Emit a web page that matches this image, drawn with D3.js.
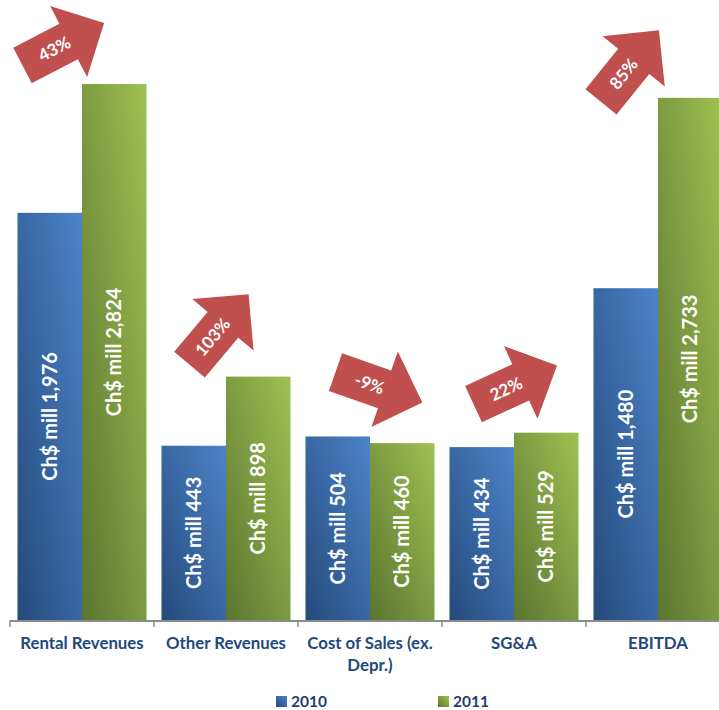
<!DOCTYPE html>
<html><head><meta charset="utf-8">
<script src="https://cdn.jsdelivr.net/npm/d3@7"></script>
<style>body{margin:0;background:#fff;overflow:hidden}</style>
</head><body>
<svg id="c" width="719" height="710"></svg>
<script>
const categories = ["Rental Revenues","Other Revenues","Cost of Sales (ex. Depr.)","SG&A","EBITDA"];
const categoryLines = [["Rental Revenues"],["Other Revenues"],["Cost of Sales (ex.","Depr.)"],["SG&A"],["EBITDA"]];
const series = ["2010","2011"];
const values2010 = [1976,443,504,434,1480];
const values2011 = [2824,898,460,529,2733];
const changeLabels = ["43%","103%","-9%","22%","85%"];
// arrow annotation layout: tail offset from the 2011 bar's top-left corner, and rotation (deg)
const arrowDX = [-59.5,-36.5,-34.5,-40.5,-57];
const arrowDY = [-18.5,-12,-71,-28.5,4];
const arrowAngle = [-27.5,-50,19.3,-24.8,-51];

const svg = d3.select("#c");
const font = "Lato, 'Open Sans', sans-serif";
const defs = svg.append("defs");
function grad(id, dark, light){
  const g = defs.append("linearGradient").attr("id", id)
    .attr("x1",0).attr("y1",1).attr("x2",1).attr("y2",0);
  g.append("stop").attr("offset","0%").attr("stop-color",dark);
  g.append("stop").attr("offset","100%").attr("stop-color",light);
}
grad("g2010","#254a7b","#4c84ca");
grad("g2011","#5b7430","#9fc252");
const fills = {"2010":"url(#g2010)","2011":"url(#g2011)"};

const x0 = d3.scaleBand().domain(categories).range([10,730]).paddingInner(0.104).paddingOuter(0.052);
const x1 = d3.scaleBand().domain(series).range([0,x0.bandwidth()]);
const y = d3.scaleLinear().domain([-704,3377]).range([620,0]);

const rows = categories.map((c,i)=>({cat:c, i, vals:[{s:"2010",v:values2010[i]},{s:"2011",v:values2011[i]}]}));

// axis line and ticks
const step = x0.step(), gapHalf = step*x0.paddingInner()/2;
svg.append("line").attr("x1",x0(categories[0])-gapHalf).attr("x2",730)
  .attr("y1",621).attr("y2",621).attr("stroke","#8c8c8c").attr("stroke-width",2);
categories.forEach(c=>{
  const tx = x0(c)-gapHalf;
  svg.append("line").attr("x1",tx).attr("x2",tx).attr("y1",620).attr("y2",627)
    .attr("stroke","#8c8c8c").attr("stroke-width",1.5);
});

const groups = svg.selectAll("g.cat").data(rows).join("g").attr("class","cat")
  .attr("transform",d=>`translate(${x0(d.cat)},0)`);
groups.selectAll("rect").data(d=>d.vals).join("rect")
  .attr("x",d=>x1(d.s)).attr("width",x1.bandwidth())
  .attr("y",d=>y(d.v)).attr("height",d=>y.range()[0]-y(d.v))
  .attr("fill",d=>fills[d.s]);
groups.selectAll("text.val").data(d=>d.vals).join("text").attr("class","val")
  .attr("transform",d=>`translate(${x1(d.s)+x1.bandwidth()/2},${(y(d.v)+620)/2}) rotate(-90)`)
  .attr("text-anchor","middle").attr("dy","0.35em")
  .attr("fill","#fff").attr("font-family",font).attr("font-weight","bold").attr("font-size",20)
  .text(d=>"Ch$ mill "+d3.format(",")(d.v));

// category labels
groups.each(function(d){
  const t = d3.select(this).append("text").attr("text-anchor","middle")
    .attr("font-family",font).attr("font-weight","bold").attr("font-size",16.8)
    .attr("fill","#1f497d");
  categoryLines[d.i].forEach((ln,k)=>{
    t.append("tspan").attr("x",x0.bandwidth()/2).attr("y",649+k*22).text(ln);
  });
});

// change arrows
const L=92, w=40, hw=80, hl=40;
const arrowPath = `M0,${-w/2}L${L-hl},${-w/2}L${L-hl},${-hw/2}L${L},0L${L-hl},${hw/2}L${L-hl},${w/2}L0,${w/2}Z`;
rows.forEach(d=>{
  const bx = x0(d.cat)+x1("2011"), by = y(values2011[d.i]);
  const g = svg.append("g").attr("transform",`translate(${bx+arrowDX[d.i]},${by+arrowDY[d.i]}) rotate(${arrowAngle[d.i]})`);
  g.append("path").attr("d",arrowPath).attr("fill","#c0504d");
  g.append("text").attr("x",36).attr("y",0).attr("dy","0.35em").attr("text-anchor","middle")
    .attr("fill","#fff").attr("font-family",font).attr("font-weight","bold").attr("font-size",17)
    .text(changeLabels[d.i]);
});

// legend
const legX = [276,438];
series.forEach((s,i)=>{
  svg.append("rect").attr("x",legX[i]).attr("y",696).attr("width",11).attr("height",11).attr("fill",fills[s]);
  svg.append("text").attr("x",legX[i]+15).attr("y",707).attr("font-family",font).attr("font-weight","bold")
    .attr("font-size",15.5).attr("fill","#1f3f6e").text(s);
});
</script>
</body></html>
